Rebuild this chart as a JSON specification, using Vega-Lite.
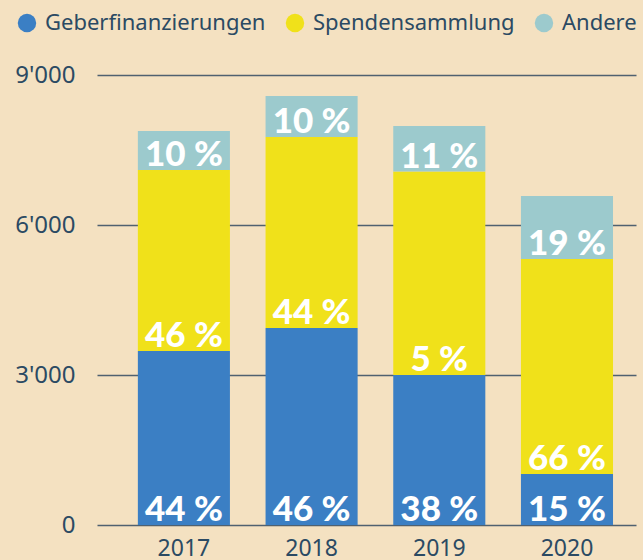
{
  "$schema": "https://vega.github.io/schema/vega-lite/v6.json",
  "width": 539,
  "height": 450,
  "autosize": {"type": "none"},
  "padding": {"left": 97, "top": 75, "right": 7, "bottom": 35},
  "background": "#f4e1c1",
  "config": {"view": {"stroke": null}, "font": "Noto Sans"},
  "data": {
    "values": [
      {"year": "2017", "cat": "Geberfinanzierungen", "k": 1, "value": 3480, "label": "44 %"},
      {"year": "2017", "cat": "Spendensammlung", "k": 2, "value": 3620, "label": "46 %"},
      {"year": "2017", "cat": "Andere", "k": 3, "value": 780, "label": "10 %"},
      {"year": "2018", "cat": "Geberfinanzierungen", "k": 1, "value": 3940, "label": "46 %"},
      {"year": "2018", "cat": "Spendensammlung", "k": 2, "value": 3820, "label": "44 %"},
      {"year": "2018", "cat": "Andere", "k": 3, "value": 820, "label": "10 %"},
      {"year": "2019", "cat": "Geberfinanzierungen", "k": 1, "value": 3000, "label": "38 %"},
      {"year": "2019", "cat": "Spendensammlung", "k": 2, "value": 4070, "label": "5 %"},
      {"year": "2019", "cat": "Andere", "k": 3, "value": 910, "label": "11 %"},
      {"year": "2020", "cat": "Geberfinanzierungen", "k": 1, "value": 1020, "label": "15 %"},
      {"year": "2020", "cat": "Spendensammlung", "k": 2, "value": 4300, "label": "66 %"},
      {"year": "2020", "cat": "Andere", "k": 3, "value": 1260, "label": "19 %"}
    ]
  },
  "transform": [
    {"stack": "value", "groupby": ["year"], "sort": [{"field": "k", "order": "ascending"}], "as": ["v0", "v1"]}
  ],
  "encoding": {
    "x": {
      "field": "year",
      "type": "nominal",
      "scale": {"paddingInner": 0.279, "paddingOuter": 0.25, "align": 0.64},
      "axis": {
        "title": null,
        "labelAngle": 0,
        "ticks": false,
        "domain": false,
        "labelFontSize": 23,
        "labelColor": "#2b4a63",
        "labelPadding": 12
      }
    }
  },
  "layer": [
    {
      "mark": {"type": "bar"},
      "encoding": {
        "y": {
          "field": "v0",
          "type": "quantitative",
          "scale": {"domain": [0, 9000]},
          "axis": {
            "title": null,
            "values": [0, 3000, 6000, 9000],
            "labelExpr": "replace(format(datum.value, ','), ',', \"'\")",
            "ticks": false,
            "domain": false,
            "grid": true,
            "gridColor": "#4f6170",
            "gridWidth": 1.3,
            "gridOpacity": 1,
            "labelFontSize": 24,
            "labelColor": "#2b4a63",
            "labelPadding": 22
          }
        },
        "y2": {"field": "v1"},
        "color": {
          "field": "cat",
          "type": "nominal",
          "scale": {
            "domain": ["Geberfinanzierungen", "Spendensammlung", "Andere"],
            "range": ["#3b7fc4", "#f0e11a", "#9ccacd"]
          },
          "legend": {
            "title": null,
            "orient": "none",
            "direction": "horizontal",
            "legendX": -81,
            "legendY": -63,
            "padding": 0,
            "symbolType": "circle",
            "symbolSize": 340,
            "symbolStrokeWidth": 0,
            "labelFontSize": 22,
            "labelLimit": 400,
            "labelColor": "#2b4a63",
            "labelOffset": 7,
            "columnPadding": 18
          }
        }
      }
    },
    {
      "mark": {"type": "text", "font": "Lato", "fontWeight": 900, "fontSize": 35, "color": "white", "baseline": "alphabetic", "dy": -4},
      "encoding": {
        "y": {"field": "v0", "type": "quantitative"},
        "text": {"field": "label"}
      }
    }
  ]
}
